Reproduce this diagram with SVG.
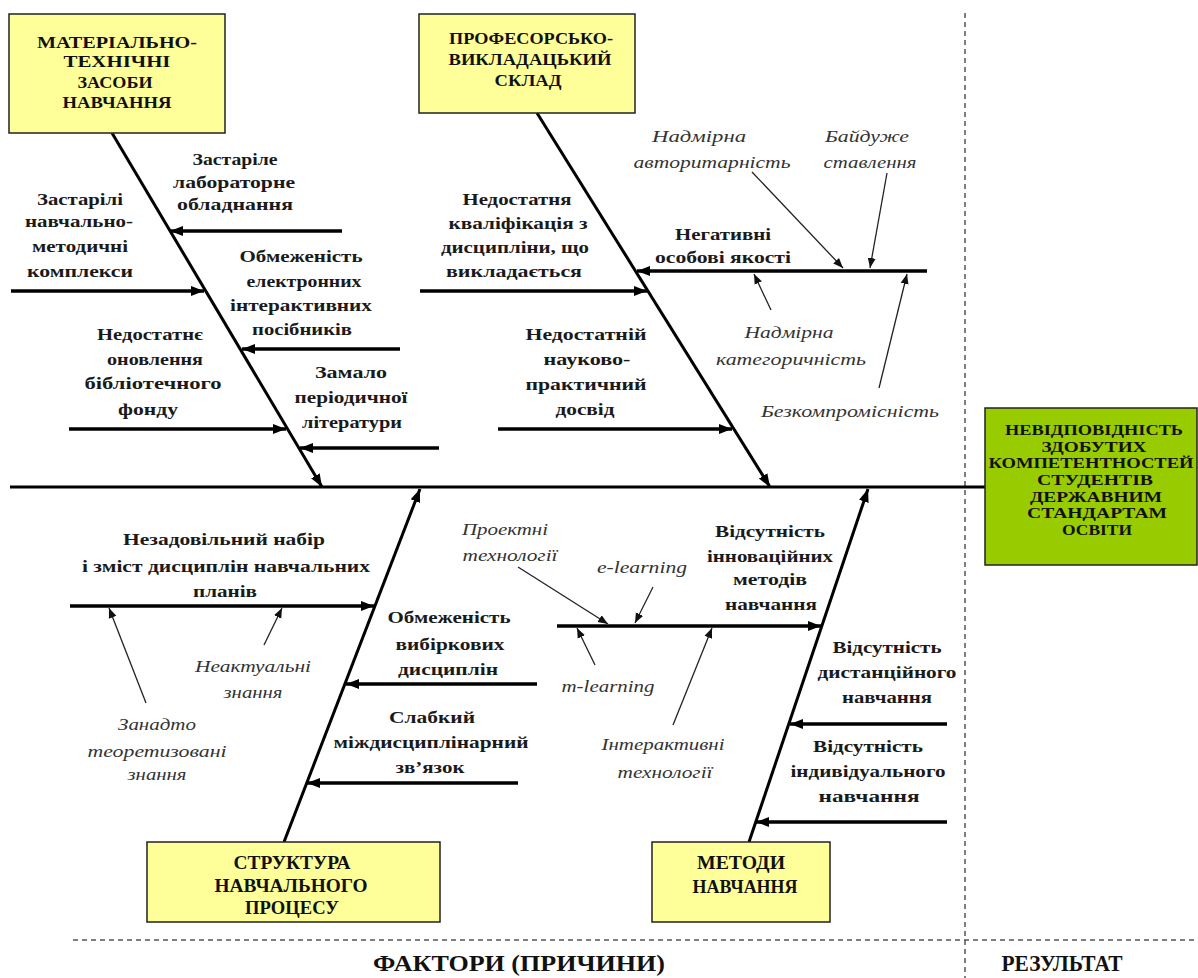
<svg xmlns="http://www.w3.org/2000/svg" width="1198" height="978" viewBox="0 0 1198 978" font-family="'Liberation Serif', 'Times New Roman', serif">
<style>
text{font-family:'Liberation Serif','Times New Roman',serif}
.box{fill:#FFFF99;stroke:#222;stroke-width:1.5}
.res{fill:#99CC00;stroke:#222;stroke-width:1.5}
.bt{font-weight:bold;font-size:16px;fill:#111;text-anchor:middle}
.rt{font-weight:bold;font-size:14px;fill:#111;text-anchor:middle}
.lb{font-weight:bold;font-size:17px;fill:#1a1a1a;text-anchor:middle}
.it{font-style:italic;font-size:16px;fill:#333;text-anchor:middle}
.ft{font-weight:bold;font-size:23px;fill:#111;text-anchor:middle}
.bone{stroke:#000;stroke-width:3;fill:none}
.sub{stroke:#000;stroke-width:3.5;fill:none}
.thin{stroke:#222;stroke-width:1.3;fill:none}
.dash{stroke:#555;stroke-width:1.5;stroke-dasharray:5 4;fill:none}
</style>
<defs>
<marker id="ah" markerUnits="userSpaceOnUse" markerWidth="14" markerHeight="12" refX="13" refY="6" orient="auto" viewBox="0 0 14 12"><path d="M0,1 L13,6 L0,11 z" fill="#000"/></marker>
<marker id="at" markerUnits="userSpaceOnUse" markerWidth="11" markerHeight="9" refX="10" refY="4.5" orient="auto" viewBox="0 0 11 9"><path d="M0,0.5 L10,4.5 L0,8.5 z" fill="#111"/></marker>
</defs>
<rect width="1198" height="978" fill="#fff"/>

<g id="dividers">
<line class="dash" x1="965" y1="13" x2="965" y2="978"/>
<line class="dash" x1="73" y1="940" x2="1198" y2="940"/>
<text class="ft" x="519" y="971" textLength="292" lengthAdjust="spacingAndGlyphs">ФАКТОРИ (ПРИЧИНИ)</text>
<text class="ft" x="1062" y="971" textLength="121" lengthAdjust="spacingAndGlyphs">РЕЗУЛЬТАТ</text>
</g>

<g id="connectors">
<line class="bone" x1="10" y1="487" x2="985" y2="487"/>
<line class="bone" x1="112" y1="133" x2="322" y2="487" marker-end="url(#ah)"/>
<line class="bone" x1="537" y1="113" x2="770" y2="487" marker-end="url(#ah)"/>
<line class="bone" x1="284" y1="842" x2="420" y2="489" marker-end="url(#ah)"/>
<line class="bone" x1="749" y1="842" x2="868" y2="489" marker-end="url(#ah)"/>

<line class="sub" x1="342" y1="231" x2="170" y2="231" marker-end="url(#ah)"/>
<line class="sub" x1="11" y1="291" x2="204" y2="291" marker-end="url(#ah)"/>
<line class="sub" x1="400" y1="349" x2="242" y2="349" marker-end="url(#ah)"/>
<line class="sub" x1="69" y1="429" x2="286" y2="429" marker-end="url(#ah)"/>
<line class="sub" x1="439" y1="448" x2="300" y2="448" marker-end="url(#ah)"/>

<line class="sub" x1="420" y1="291" x2="647" y2="291" marker-end="url(#ah)"/>
<line class="sub" x1="927" y1="271" x2="637" y2="271" marker-end="url(#ah)"/>
<line class="sub" x1="498" y1="429" x2="732" y2="429" marker-end="url(#ah)"/>

<line class="sub" x1="70" y1="606" x2="374" y2="606" marker-end="url(#ah)"/>
<line class="sub" x1="537" y1="684" x2="346" y2="684" marker-end="url(#ah)"/>
<line class="sub" x1="518" y1="783" x2="307" y2="783" marker-end="url(#ah)"/>

<line class="sub" x1="557" y1="626" x2="821" y2="626" marker-end="url(#ah)"/>
<line class="sub" x1="947" y1="724" x2="790" y2="724" marker-end="url(#ah)"/>
<line class="sub" x1="947" y1="822" x2="756" y2="822" marker-end="url(#ah)"/>

<line class="thin" x1="752" y1="172" x2="843" y2="268" marker-end="url(#at)"/>
<line class="thin" x1="887" y1="173" x2="870" y2="268" marker-end="url(#at)"/>
<line class="thin" x1="771" y1="310" x2="754" y2="274" marker-end="url(#at)"/>
<line class="thin" x1="879" y1="388" x2="907" y2="274" marker-end="url(#at)"/>
<line class="thin" x1="518" y1="567" x2="608" y2="624" marker-end="url(#at)"/>
<line class="thin" x1="653" y1="587" x2="635" y2="623" marker-end="url(#at)"/>
<line class="thin" x1="595" y1="665" x2="577" y2="628" marker-end="url(#at)"/>
<line class="thin" x1="673" y1="725" x2="712" y2="628" marker-end="url(#at)"/>
<line class="thin" x1="264" y1="645" x2="282" y2="608" marker-end="url(#at)"/>
<line class="thin" x1="146" y1="703" x2="109" y2="608" marker-end="url(#at)"/>
</g>

<g id="box-material">
<rect class="box" x="9" y="14" width="216" height="119"/>
<text class="bt" x="117" y="48" textLength="160" lengthAdjust="spacingAndGlyphs">МАТЕРІАЛЬНО-</text>
<text class="bt" x="117" y="67" textLength="107" lengthAdjust="spacingAndGlyphs">ТЕХНІЧНІ</text>
<text class="bt" x="115" y="88" textLength="75" lengthAdjust="spacingAndGlyphs">ЗАСОБИ</text>
<text class="bt" x="117" y="108" textLength="109" lengthAdjust="spacingAndGlyphs">НАВЧАННЯ</text>
</g>

<g id="box-staff">
<rect class="box" x="419" y="14" width="216" height="99"/>
<text class="bt" x="531" y="44" textLength="164" lengthAdjust="spacingAndGlyphs">ПРОФЕСОРСЬКО-</text>
<text class="bt" x="530" y="65" textLength="163" lengthAdjust="spacingAndGlyphs">ВИКЛАДАЦЬКИЙ</text>
<text class="bt" x="528" y="86" textLength="67" lengthAdjust="spacingAndGlyphs">СКЛАД</text>
</g>

<g id="box-structure">
<rect class="box" x="147" y="842" width="293" height="80"/>
<text class="bt" x="292" y="869" style="font-size:19px" textLength="117" lengthAdjust="spacingAndGlyphs">СТРУКТУРА</text>
<text class="bt" x="291" y="892" style="font-size:19px" textLength="153" lengthAdjust="spacingAndGlyphs">НАВЧАЛЬНОГО</text>
<text class="bt" x="292" y="914" style="font-size:19px" textLength="94" lengthAdjust="spacingAndGlyphs">ПРОЦЕСУ</text>
</g>

<g id="box-methods">
<rect class="box" x="652" y="842" width="178" height="80"/>
<text class="bt" x="741" y="869" style="font-size:19px" textLength="88" lengthAdjust="spacingAndGlyphs">МЕТОДИ</text>
<text class="bt" x="745" y="893" style="font-size:19px" textLength="105" lengthAdjust="spacingAndGlyphs">НАВЧАННЯ</text>
</g>

<g id="box-result">
<rect class="res" x="985" y="408" width="212" height="157"/>
<text class="rt" x="1094" y="435" textLength="178" lengthAdjust="spacingAndGlyphs">НЕВІДПОВІДНІСТЬ</text>
<text class="rt" x="1094" y="452" textLength="105" lengthAdjust="spacingAndGlyphs">ЗДОБУТИХ</text>
<text class="rt" x="1091" y="468" textLength="205" lengthAdjust="spacingAndGlyphs">КОМПЕТЕНТНОСТЕЙ</text>
<text class="rt" x="1095" y="485" textLength="116" lengthAdjust="spacingAndGlyphs">СТУДЕНТІВ</text>
<text class="rt" x="1096" y="502" textLength="132" lengthAdjust="spacingAndGlyphs">ДЕРЖАВНИМ</text>
<text class="rt" x="1097" y="518" textLength="140" lengthAdjust="spacingAndGlyphs">СТАНДАРТАМ</text>
<text class="rt" x="1097" y="535" textLength="70" lengthAdjust="spacingAndGlyphs">ОСВІТИ</text>
</g>

<g id="cause-lab">
<text class="lb" x="235" y="165" textLength="85" lengthAdjust="spacingAndGlyphs">Застаріле</text>
<text class="lb" x="234" y="188" textLength="122" lengthAdjust="spacingAndGlyphs">лабораторне</text>
<text class="lb" x="235" y="210" textLength="116" lengthAdjust="spacingAndGlyphs">обладнання</text>
</g>
<g id="cause-umk">
<text class="lb" x="80" y="205" textLength="86" lengthAdjust="spacingAndGlyphs">Застарілі</text>
<text class="lb" x="79" y="227" textLength="108" lengthAdjust="spacingAndGlyphs">навчально-</text>
<text class="lb" x="80" y="252" textLength="96" lengthAdjust="spacingAndGlyphs">методичні</text>
<text class="lb" x="80" y="277" textLength="106" lengthAdjust="spacingAndGlyphs">комплекси</text>
</g>
<g id="cause-electronic">
<text class="lb" x="301" y="262" textLength="123" lengthAdjust="spacingAndGlyphs">Обмеженість</text>
<text class="lb" x="304" y="287" textLength="115" lengthAdjust="spacingAndGlyphs">електронних</text>
<text class="lb" x="301" y="311" textLength="142" lengthAdjust="spacingAndGlyphs">інтерактивних</text>
<text class="lb" x="302" y="335" textLength="100" lengthAdjust="spacingAndGlyphs">посібників</text>
</g>
<g id="cause-library">
<text class="lb" x="150" y="340" textLength="106" lengthAdjust="spacingAndGlyphs">Недостатнє</text>
<text class="lb" x="155" y="365" textLength="96" lengthAdjust="spacingAndGlyphs">оновлення</text>
<text class="lb" x="153" y="389" textLength="137" lengthAdjust="spacingAndGlyphs">бібліотечного</text>
<text class="lb" x="148" y="415" textLength="60" lengthAdjust="spacingAndGlyphs">фонду</text>
</g>
<g id="cause-periodic">
<text class="lb" x="351" y="378" textLength="72" lengthAdjust="spacingAndGlyphs">Замало</text>
<text class="lb" x="351" y="403" textLength="113" lengthAdjust="spacingAndGlyphs">періодичної</text>
<text class="lb" x="352" y="428" textLength="100" lengthAdjust="spacingAndGlyphs">літератури</text>
</g>

<g id="cause-qualification">
<text class="lb" x="517" y="205" textLength="109" lengthAdjust="spacingAndGlyphs">Недостатня</text>
<text class="lb" x="518" y="229" textLength="139" lengthAdjust="spacingAndGlyphs">кваліфікація з</text>
<text class="lb" x="515" y="253" textLength="148" lengthAdjust="spacingAndGlyphs">дисципліни, що</text>
<text class="lb" x="514" y="277" textLength="136" lengthAdjust="spacingAndGlyphs">викладається</text>
</g>
<g id="cause-negative">
<text class="lb" x="723" y="240" textLength="96" lengthAdjust="spacingAndGlyphs">Негативні</text>
<text class="lb" x="723" y="263" textLength="136" lengthAdjust="spacingAndGlyphs">особові якості</text>
</g>
<g id="cause-experience">
<text class="lb" x="586" y="340" textLength="121" lengthAdjust="spacingAndGlyphs">Недостатній</text>
<text class="lb" x="587" y="365" textLength="87" lengthAdjust="spacingAndGlyphs">науково-</text>
<text class="lb" x="586" y="390" textLength="121" lengthAdjust="spacingAndGlyphs">практичний</text>
<text class="lb" x="585" y="415" textLength="59" lengthAdjust="spacingAndGlyphs">досвід</text>
</g>
<g id="sub-authoritarian">
<text class="it" x="699" y="142" textLength="94" lengthAdjust="spacingAndGlyphs">Надмірна</text>
<text class="it" x="712" y="168" textLength="157" lengthAdjust="spacingAndGlyphs">авторитарність</text>
</g>
<g id="sub-indifferent">
<text class="it" x="867" y="142" textLength="84" lengthAdjust="spacingAndGlyphs">Байдуже</text>
<text class="it" x="870" y="168" textLength="93" lengthAdjust="spacingAndGlyphs">ставлення</text>
</g>
<g id="sub-categorical">
<text class="it" x="789" y="338" textLength="89" lengthAdjust="spacingAndGlyphs">Надмірна</text>
<text class="it" x="791" y="365" textLength="150" lengthAdjust="spacingAndGlyphs">категоричність</text>
</g>
<g id="sub-uncompromising">
<text class="it" x="850" y="417" textLength="178" lengthAdjust="spacingAndGlyphs">Безкомпромісність</text>
</g>

<g id="cause-curriculum">
<text class="lb" x="224" y="545" textLength="202" lengthAdjust="spacingAndGlyphs">Незадовільний набір</text>
<text class="lb" x="226" y="572" textLength="288" lengthAdjust="spacingAndGlyphs">і зміст дисциплін навчальних</text>
<text class="lb" x="225" y="597" textLength="64" lengthAdjust="spacingAndGlyphs">планів</text>
</g>
<g id="sub-irrelevant">
<text class="it" x="253" y="672" textLength="116" lengthAdjust="spacingAndGlyphs">Неактуальні</text>
<text class="it" x="253" y="698" textLength="59" lengthAdjust="spacingAndGlyphs">знання</text>
</g>
<g id="sub-theoretical">
<text class="it" x="157" y="730" textLength="78" lengthAdjust="spacingAndGlyphs">Занадто</text>
<text class="it" x="157" y="757" textLength="139" lengthAdjust="spacingAndGlyphs">теоретизовані</text>
<text class="it" x="157" y="780" textLength="59" lengthAdjust="spacingAndGlyphs">знання</text>
</g>
<g id="cause-electives">
<text class="lb" x="449" y="623" textLength="123" lengthAdjust="spacingAndGlyphs">Обмеженість</text>
<text class="lb" x="450" y="650" textLength="109" lengthAdjust="spacingAndGlyphs">вибіркових</text>
<text class="lb" x="448" y="675" textLength="100" lengthAdjust="spacingAndGlyphs">дисциплін</text>
</g>
<g id="cause-interdisciplinary">
<text class="lb" x="432" y="723" textLength="86" lengthAdjust="spacingAndGlyphs">Слабкий</text>
<text class="lb" x="431" y="748" textLength="195" lengthAdjust="spacingAndGlyphs">міждисциплінарний</text>
<text class="lb" x="430" y="773" textLength="69" lengthAdjust="spacingAndGlyphs">зв’язок</text>
</g>

<g id="cause-innovative">
<text class="lb" x="770" y="537" textLength="110" lengthAdjust="spacingAndGlyphs">Відсутність</text>
<text class="lb" x="770" y="562" textLength="126" lengthAdjust="spacingAndGlyphs">інноваційних</text>
<text class="lb" x="770" y="585" textLength="74" lengthAdjust="spacingAndGlyphs">методів</text>
<text class="lb" x="771" y="610" textLength="92" lengthAdjust="spacingAndGlyphs">навчання</text>
</g>
<g id="sub-project">
<text class="it" x="505" y="535" textLength="86" lengthAdjust="spacingAndGlyphs">Проектні</text>
<text class="it" x="510" y="561" textLength="95" lengthAdjust="spacingAndGlyphs">технології</text>
</g>
<g id="sub-elearning">
<text class="it" x="642" y="573" textLength="90" lengthAdjust="spacingAndGlyphs">e-learning</text>
</g>
<g id="sub-mlearning">
<text class="it" x="608" y="692" textLength="93" lengthAdjust="spacingAndGlyphs">m-learning</text>
</g>
<g id="sub-interactive">
<text class="it" x="663" y="750" textLength="123" lengthAdjust="spacingAndGlyphs">Інтерактивні</text>
<text class="it" x="665" y="778" textLength="95" lengthAdjust="spacingAndGlyphs">технології</text>
</g>
<g id="cause-distance">
<text class="lb" x="887" y="653" textLength="109" lengthAdjust="spacingAndGlyphs">Відсутність</text>
<text class="lb" x="887" y="678" textLength="139" lengthAdjust="spacingAndGlyphs">дистанційного</text>
<text class="lb" x="887" y="703" textLength="90" lengthAdjust="spacingAndGlyphs">навчання</text>
</g>
<g id="cause-individual">
<text class="lb" x="868" y="752" textLength="110" lengthAdjust="spacingAndGlyphs">Відсутність</text>
<text class="lb" x="868" y="777" textLength="155" lengthAdjust="spacingAndGlyphs">індивідуального</text>
<text class="lb" x="869" y="802" textLength="101" lengthAdjust="spacingAndGlyphs">навчання</text>
</g>
</svg>
